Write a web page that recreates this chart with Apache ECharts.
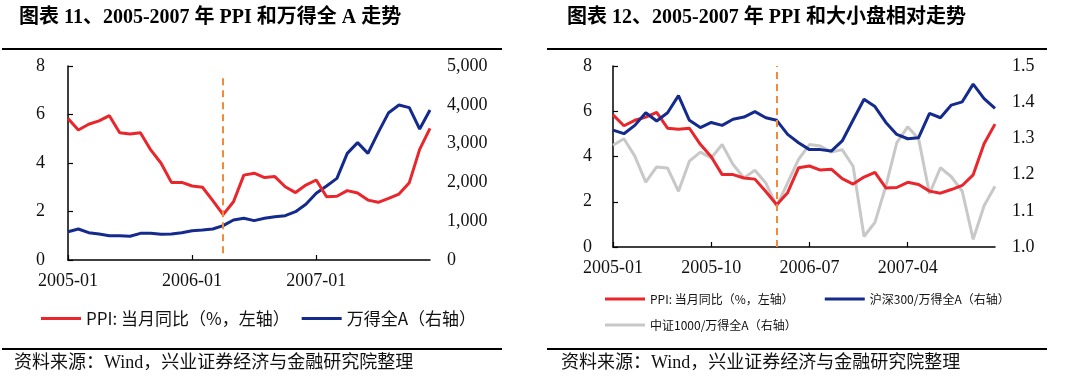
<!DOCTYPE html>
<html><head><meta charset="utf-8">
<script src="https://cdn.jsdelivr.net/npm/echarts@6/dist/echarts.min.js"></script>
<style>html,body{margin:0;padding:0;background:#fff}#c{width:1080px;height:380px}</style>
</head><body><div id="c"></div>
<script>
var months = ['2005-01','2005-02','2005-03','2005-04','2005-05','2005-06','2005-07','2005-08','2005-09','2005-10','2005-11','2005-12',
'2006-01','2006-02','2006-03','2006-04','2006-05','2006-06','2006-07','2006-08','2006-09','2006-10','2006-11','2006-12',
'2007-01','2007-02','2007-03','2007-04','2007-05','2007-06','2007-07','2007-08','2007-09','2007-10','2007-11','2007-12'];
var ppi = [5.84,5.36,5.6,5.74,5.95,5.25,5.2,5.25,4.54,3.99,3.2,3.2,3.05,3.0,2.45,1.87,2.4,3.5,3.58,3.4,3.44,3.02,2.78,3.09,3.3,2.61,2.63,2.86,2.76,2.47,2.38,2.54,2.72,3.19,4.56,5.43];
var windA = [730,799,704,670,627,627,613,687,687,661,670,704,756,773,799,885,1031,1074,1014,1074,1117,1143,1246,1435,1718,1907,2104,2749,3024,2749,3290,3797,3994,3926,3376,3866];
var hs300Ratio = [1.323,1.313,1.336,1.371,1.348,1.371,1.418,1.35,1.33,1.344,1.336,1.353,1.359,1.374,1.357,1.35,1.311,1.288,1.269,1.269,1.265,1.293,1.351,1.408,1.388,1.344,1.311,1.299,1.302,1.369,1.357,1.392,1.401,1.45,1.41,1.383];
var zz1000Ratio = [1.281,1.299,1.251,1.179,1.221,1.218,1.154,1.237,1.262,1.246,1.283,1.228,1.191,1.212,1.177,1.112,1.177,1.242,1.283,1.279,1.262,1.269,1.223,1.029,1.068,1.168,1.288,1.332,1.299,1.147,1.219,1.194,1.154,1.021,1.114,1.168];
var markerMonth = '2006-04';
var marker1Range = [7.5, 0.2];

var titles = ['图表 11、2005-2007 年 PPI 和万得全 A 走势', '图表 12、2005-2007 年 PPI 和大小盘相对走势'];
var namePPI = 'PPI: 当月同比（%，左轴）';
var nameWind = '万得全A（右轴）';
var nameHS = '沪深300/万得全A（右轴）';
var nameZZ = '中证1000/万得全A（右轴）';
var sourceText = '资料来源：Wind，兴业证券经济与金融研究院整理';

var RED = '#E8262B', BLUE = '#142A8C', GRAY = '#C8C8C8', ORANGE = '#F28A3A';
var SERIF = "'Liberation Serif','Noto Sans CJK SC',serif";
var CJK = "'Noto Sans CJK SC',sans-serif";

function xAxisCfg(grid, interval) {
  return {
    type: 'category', gridIndex: grid, data: months, boundaryGap: false,
    axisLine: { lineStyle: { color: '#000', width: 1.5 } },
    axisTick: { inside: true, length: 5, interval: interval, lineStyle: { color: '#000', width: 1.2 } },
    axisLabel: { interval: interval, color: '#111', fontFamily: SERIF, fontSize: 18, margin: 12 },
    splitLine: { show: false }
  };
}
function yAxisCfg(grid, pos, min, max, interval, fmt, showLine, margin) {
  return {
    type: 'value', gridIndex: grid, position: pos, min: min, max: max, interval: interval,
    axisLine: { show: showLine, lineStyle: { color: '#000', width: 1.5 } },
    axisTick: { show: showLine, inside: true, length: 5, lineStyle: { color: '#000', width: 1.2 } },
    axisLabel: { color: '#111', fontFamily: SERIF, fontSize: 18, margin: margin, formatter: fmt },
    splitLine: { show: false }
  };
}
var chart = echarts.init(document.getElementById('c'), null, { renderer: 'canvas' });
chart.setOption({
  animation: false,
  backgroundColor: '#fff',
  title: [
    { text: titles[0], left: 14, top: 3, textStyle: { fontFamily: SERIF, fontWeight: 'bold', fontSize: 20, color: '#000' } },
    { text: titles[1], left: 562, top: 3, textStyle: { fontFamily: SERIF, fontWeight: 'bold', fontSize: 20, color: '#000' } }
  ],
  grid: [
    { left: 68, right: 650, top: 66, bottom: 120 },
    { left: 613, right: 85, top: 66, bottom: 133 }
  ],
  xAxis: [xAxisCfg(0, 11), xAxisCfg(1, 8)],
  yAxis: [
    yAxisCfg(0, 'left', 0, 8, 2, null, true, 23),
    yAxisCfg(0, 'right', 0, 5000, 1000, function (v) { return v.toLocaleString('en-US'); }, false, 17),
    yAxisCfg(1, 'left', 0, 8, 2, null, true, 21),
    yAxisCfg(1, 'right', 1.0, 1.5, 0.1, function (v) { return v.toFixed(1); }, false, 17)
  ],
  legend: [
    { data: [namePPI, nameWind], left: 36, top: 305, itemWidth: 40, itemHeight: 3, itemGap: 12, icon: 'rect',
      textStyle: { fontFamily: CJK, fontSize: 17, color: '#111' } },
    { data: [namePPI, nameHS], left: 600, top: 288, itemWidth: 40, itemHeight: 3, itemGap: 31, icon: 'rect',
      textStyle: { fontFamily: CJK, fontSize: 12, color: '#111' } },
    { data: [nameZZ], left: 600, top: 314, itemWidth: 40, itemHeight: 3, icon: 'rect',
      textStyle: { fontFamily: CJK, fontSize: 12, color: '#111' } }
  ],
  series: [
    { name: namePPI, type: 'line', xAxisIndex: 0, yAxisIndex: 0, data: ppi, symbol: 'none',
      lineStyle: { color: RED, width: 3 }, itemStyle: { color: RED }, z: 3,
      markLine: { silent: true, symbol: 'none', label: { show: false },
        lineStyle: { color: ORANGE, width: 2, type: [7, 5] },
        data: [[{ coord: [markerMonth, marker1Range[0]] }, { coord: [markerMonth, marker1Range[1]] }]] } },
    { name: nameWind, type: 'line', xAxisIndex: 0, yAxisIndex: 1, data: windA, symbol: 'none',
      lineStyle: { color: BLUE, width: 3 }, itemStyle: { color: BLUE }, z: 2 },
    { name: nameZZ, type: 'line', xAxisIndex: 1, yAxisIndex: 3, data: zz1000Ratio, symbol: 'none',
      lineStyle: { color: GRAY, width: 3 }, itemStyle: { color: GRAY }, z: 2 },
    { name: namePPI, type: 'line', xAxisIndex: 1, yAxisIndex: 2, data: ppi, symbol: 'none',
      lineStyle: { color: RED, width: 3 }, itemStyle: { color: RED }, z: 3,
      markLine: { silent: true, symbol: 'none', label: { show: false },
        lineStyle: { color: ORANGE, width: 2, type: [7, 5] },
        data: [{ xAxis: markerMonth }] } },
    { name: nameHS, type: 'line', xAxisIndex: 1, yAxisIndex: 3, data: hs300Ratio, symbol: 'none',
      lineStyle: { color: BLUE, width: 3 }, itemStyle: { color: BLUE }, z: 4 }
  ],
  graphic: [
    { type: 'line', shape: { x1: 2, y1: 49, x2: 502, y2: 49 }, style: { stroke: '#000', lineWidth: 2 } },
    { type: 'line', shape: { x1: 547, y1: 49, x2: 1047, y2: 49 }, style: { stroke: '#000', lineWidth: 2 } },
    { type: 'line', shape: { x1: 2, y1: 349, x2: 502, y2: 349 }, style: { stroke: '#000', lineWidth: 2 } },
    { type: 'line', shape: { x1: 547, y1: 349, x2: 1047, y2: 349 }, style: { stroke: '#000', lineWidth: 2 } },
    { type: 'text', left: 14, top: 354, style: { text: sourceText, fontFamily: SERIF, fontSize: 18, fill: '#111' } },
    { type: 'text', left: 561, top: 354, style: { text: sourceText, fontFamily: SERIF, fontSize: 18, fill: '#111' } }
  ]
});
</script></body></html>
